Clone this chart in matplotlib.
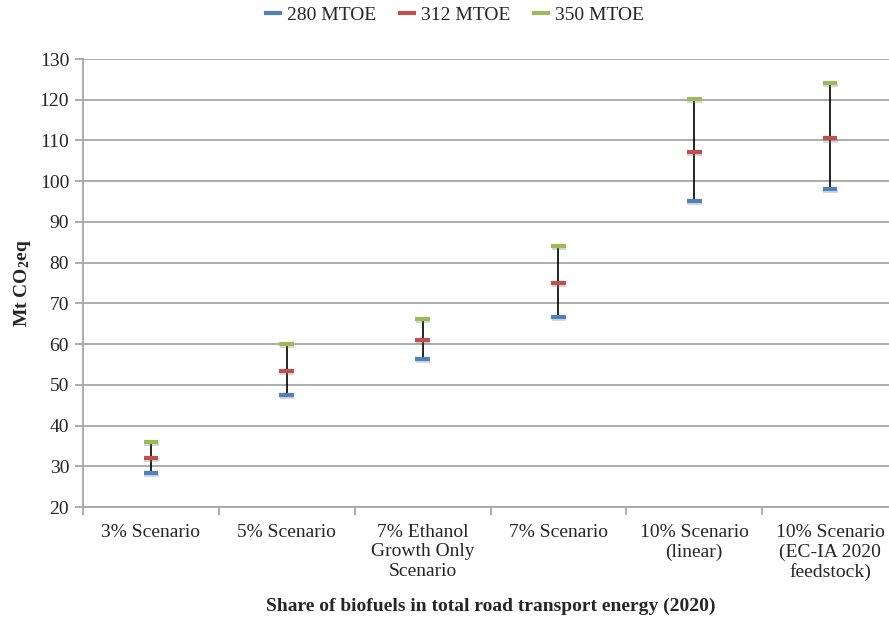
import matplotlib
matplotlib.use("Agg")
import matplotlib.pyplot as plt
from matplotlib.lines import Line2D
import matplotlib.patheffects as pe

plt.rcParams['font.family'] = ['Liberation Serif', 'DejaVu Serif']
plt.rcParams['mathtext.fontset'] = 'custom'
plt.rcParams['mathtext.rm'] = 'Liberation Serif:bold'
plt.rcParams['mathtext.it'] = 'Liberation Serif:bold'
plt.rcParams['mathtext.bf'] = 'Liberation Serif:bold'

categories = ["3% Scenario", "5% Scenario", "7% Ethanol\nGrowth Only\nScenario",
              "7% Scenario", "10% Scenario\n(linear)", "10% Scenario\n(EC-IA 2020\nfeedstock)"]
series_names = ["280 MTOE", "312 MTOE", "350 MTOE"]
mtoe_280 = [28.4, 47.5, 56.4, 66.6, 95.2, 98.1]
mtoe_312 = [32.1, 53.3, 61.1, 75.0, 107.2, 110.5]
mtoe_350 = [35.9, 60.0, 66.2, 84.1, 120.2, 124.1]
colors = ["#4F81BD", "#C0504D", "#9BBB59"]
y_ticks = list(range(20, 131, 10))

text_col = "#262626"
grid_col = "#A6A6A6"
fs = 14

fig = plt.figure(figsize=(8.89, 6.21), dpi=100)
ax = fig.add_axes([83/889, 114/621, 815/889, 448/621])

x = list(range(len(categories)))

# high-low lines spanning the three demand levels
ax.vlines(x, mtoe_280, mtoe_350, color="black", lw=1.2, zorder=3)

shadow = [pe.SimpleLineShadow(offset=(0.3, -1.5), shadow_color="gray", alpha=0.3), pe.Normal()]
for vals, col in zip([mtoe_280, mtoe_312, mtoe_350], colors):
    ax.plot(x, vals, linestyle="none", marker="_", ms=10.5, mew=3.0, color=col,
            zorder=4, path_effects=shadow)

ax.set_xlim(-0.5, len(categories) - 0.5)
ax.set_ylim(20, 130)
ax.set_yticks(y_ticks)
ax.set_yticklabels([str(t) for t in y_ticks], fontsize=fs, color=text_col)
ax.yaxis.grid(True, color=grid_col, lw=1.3)
ax.set_axisbelow(True)

ax.set_xticks(x)
ax.set_xticklabels(categories, fontsize=fs, color=text_col, linespacing=1.2)
ax.set_xticks([i - 0.5 for i in range(len(categories) + 1)], minor=True)
ax.tick_params(axis="x", which="major", length=0, pad=12)
ax.tick_params(axis="x", which="minor", length=6, color=grid_col, width=1.3)
ax.tick_params(axis="y", length=6, color=grid_col, width=1.3, pad=4)

for s in ["top", "right"]:
    ax.spines[s].set_visible(False)
for s in ["left", "bottom"]:
    ax.spines[s].set_color(grid_col)
    ax.spines[s].set_linewidth(1.3)

ax.set_ylabel(r"Mt CO$_2$eq", fontsize=fs, fontweight="bold", color=text_col, labelpad=5)
fig.text(491/889, 1 - 606/621, "Share of biofuels in total road transport energy (2020)",
         fontsize=fs, fontweight="bold", color=text_col, ha="center", va="center")

handles = [Line2D([0], [0], color=c, lw=3) for c in colors]
fig.legend(handles, series_names, loc="center", bbox_to_anchor=(455/889, 1 - 15/621),
           ncol=3, frameon=False, fontsize=fs, handlelength=0.7, handletextpad=0.35,
           columnspacing=1.25, labelcolor=text_col)

fig.savefig("out.png", dpi=100)
